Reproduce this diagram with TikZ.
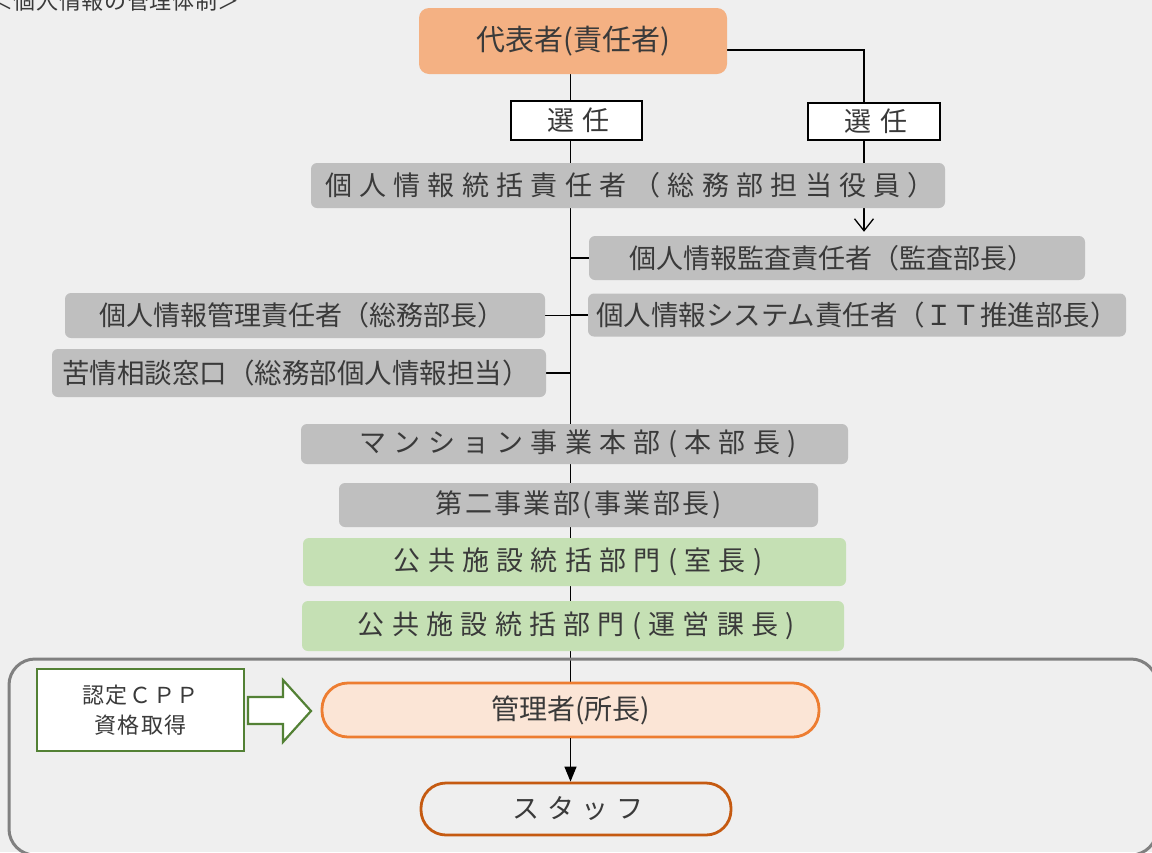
\documentclass[tikz,border=0pt]{standalone}
\usepackage{fontspec}
\setmainfont{Noto Sans CJK JP}
\newfontfamily\lsw[LetterSpace=27]{Noto Sans CJK JP}
\newfontfamily\lsn[LetterSpace=9]{Noto Sans CJK JP}
\newfontfamily\lss[LetterSpace=30]{Noto Sans CJK JP}
\newfontfamily\lst[LetterSpace=28]{Noto Sans CJK JP}
\newfontfamily\lsc[LetterSpace=7]{Noto Sans CJK JP}
\newfontfamily\lsh[LetterSpace=3]{Noto Sans CJK JP}
\usetikzlibrary{arrows.meta}
\newcommand\fsz[1]{\fontsize{#1}{#1}\selectfont}
\definecolor{bgc}{HTML}{EFEFEF}
\definecolor{txtc}{HTML}{3A3A3A}
\definecolor{grayc}{HTML}{BFBFBF}
\definecolor{greenc}{HTML}{C5E0B4}
\definecolor{topc}{HTML}{F4B183}
\definecolor{mgrfill}{HTML}{FBE5D6}
\definecolor{mgrline}{HTML}{ED7D31}
\definecolor{stfline}{HTML}{C55A11}
\definecolor{certline}{HTML}{538135}
\definecolor{framec}{HTML}{808080}
\pgfdeclarelayer{bgfill}
\pgfdeclarelayer{lines}
\pgfsetlayers{bgfill,lines,main}
\begin{document}
\begin{tikzpicture}[x=1pt,y=-1pt,
  base/.style={text=txtc, inner sep=0pt, align=center},
  gbox/.style={base, fill=grayc, rounded corners=6pt},
  grbox/.style={base, fill=greenc, rounded corners=6pt},
  selbox/.style={base, fill=white, draw=black, line width=2pt},
  conn/.style={draw=black, line width=1.3pt},
  pill/.style={base, line width=2.8pt}]
\useasboundingbox (0,0) rectangle (1152,852);
\begin{pgfonlayer}{bgfill}
\fill[bgc] (0,0) rectangle (1152,852);
\end{pgfonlayer}

% frame and title (clipped to the page, as in the reference)
\begin{scope}
\clip (0,0) rectangle (1152,852);
\draw[framec, line width=3pt, rounded corners=26pt] (9,659) rectangle (1157,855);
\node[base, anchor=base east, font={\lsh\fsz{22}}] (title) at (240,9) {＜個人情報の管理体制＞};
\end{scope}

% nodes
\node[base, fill=topc, rounded corners=10pt, minimum width=308pt, minimum height=66pt, font=\fsz{29}] (top) at (573,41) {代表者(責任者)};
\node[selbox, minimum width=131pt, minimum height=39pt, font={\lss\fsz{27}}] (sel1) at (576.5,120.5) {\hspace*{4pt}選任};
\node[selbox, minimum width=132pt, minimum height=37pt, font={\lss\fsz{27}}] (sel2) at (874,121.5) {\hspace*{4pt}選任};
\node[gbox, minimum width=634pt, minimum height=45pt, font={\lsw\fsz{27}}] (tokatsu) at (628,185.5) {\hspace*{4pt}個人情報統括責任者（総務部担当役員）};
\node[gbox, minimum width=496pt, minimum height=44pt, font=\fsz{27}] (kansa) at (837,258) {個人情報監査責任者（監査部長）\hspace*{10pt}};
\node[gbox, minimum width=538pt, minimum height=43pt, font=\fsz{27.5}] (system) at (857,315) {個人情報システム責任者（ＩＴ推進部長）};
\node[gbox, minimum width=480pt, minimum height=45pt, font=\fsz{27}] (kanriS) at (305,315.5) {個人情報管理責任者（総務部長）\hspace*{6pt}};
\node[gbox, minimum width=494pt, minimum height=48pt, font=\fsz{27.5}] (kujo) at (299,373) {苦情相談窓口（総務部個人情報担当）\hspace*{6pt}};
\node[gbox, minimum width=547pt, minimum height=40pt, font={\lsw\fsz{27}}] (mansion) at (574.5,444) {\hspace*{7pt}マンション事業本部(本部長)};
\node[gbox, minimum width=479pt, minimum height=44pt, font={\lsn\fsz{27}}] (daini) at (578.5,505) {第二事業部(事業部長)};
\node[grbox, minimum width=543pt, minimum height=48pt, font={\lsw\fsz{27}}] (koukyo1) at (574.5,562) {\hspace*{7pt}公共施設統括部門(室長)};
\node[grbox, minimum width=542pt, minimum height=50pt, font={\lsw\fsz{27}}] (koukyo2) at (573,626) {\hspace*{7pt}公共施設統括部門(運営課長)};
\node[base, fill=white, draw=certline, line width=2.2pt, minimum width=207pt, minimum height=82pt, font={\lsc\fontsize{22}{30}\selectfont}] (cert) at (140.5,710) {認定ＣＰＰ\\資格取得};
\node[pill, fill=mgrfill, draw=mgrline, rounded corners=26pt, minimum width=497pt, minimum height=54pt, font=\fsz{28}] (kanri) at (570.5,710) {管理者(所長)};
\node[pill, draw=stfline, rounded corners=25pt, minimum width=310pt, minimum height=52pt, font={\lst\fsz{27}}] (staff) at (576,809) {\hspace*{4pt}スタッフ};

% block arrow from cert to manager
\draw[certline, fill=white, line width=2.2pt, line join=miter]
  (248,697) -- (283,697) -- (283,680) -- (311,711) -- (283,742) -- (283,724) -- (248,724) -- cycle;

% connectors
\coordinate (te) at ([yshift=-9pt]top.east);
\coordinate (rc) at (864,50);
\begin{pgfonlayer}{lines}
\draw[conn] (top.south -| kanri.north) -- (kanri.north);
\draw[conn, -{Straight Barb[length=12pt,width=19pt]}, shorten >=4pt] (te) -- (te -| rc) -- (rc |- kansa.north);
\draw[conn] (kansa.west) -- (kansa.west -| kanri.north);
\draw[conn] (system.west) -- (system.west -| kanri.north);
\draw[conn] (kanriS.east) -- (kanriS.east -| kanri.north);
\draw[conn] (kujo.east) -- (kujo.east -| kanri.north);
\end{pgfonlayer}
\draw[black, line width=1.3pt, -{Triangle[length=15pt,width=12pt]}] (kanri.south) -- (kanri.south |- staff.north);
\end{tikzpicture}
\end{document}
